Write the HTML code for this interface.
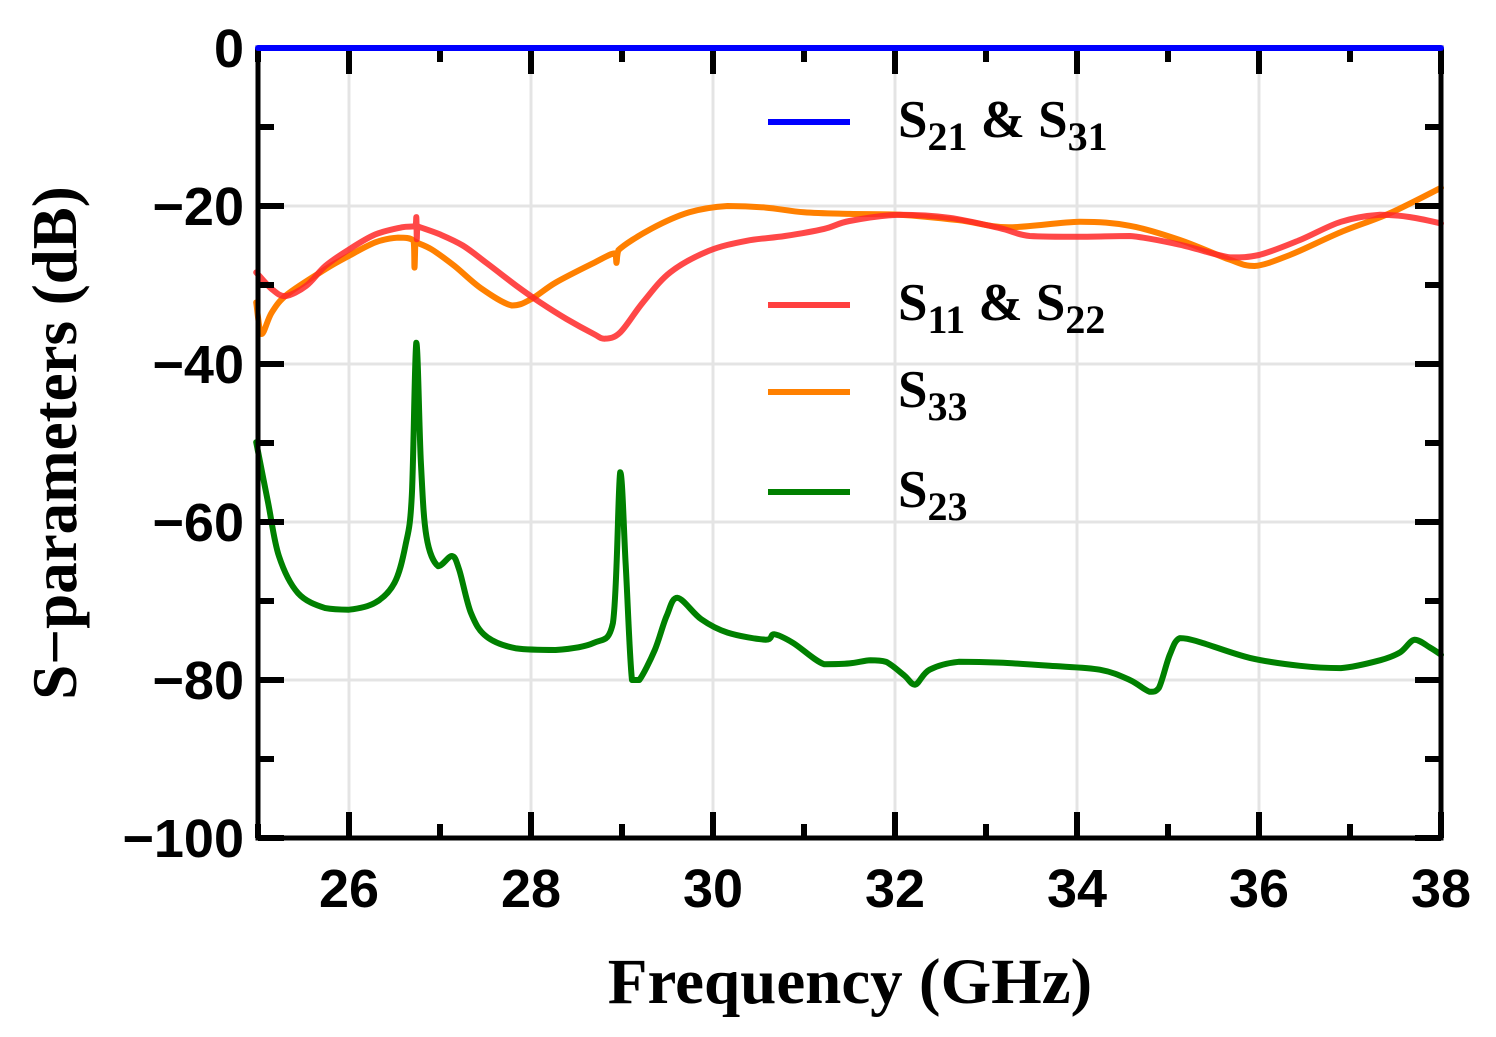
<!DOCTYPE html>
<html><head><meta charset="utf-8"><style>
body{margin:0;background:#fff;}
svg text{font-family:"Liberation Sans",sans-serif;font-weight:bold;}
.ser{font-family:"Liberation Serif",serif !important;}
</style></head><body>
<svg width="1496" height="1032" viewBox="0 0 1496 1032">
<g id="grid"></g>
<g id="series"></g>
<g id="axes"></g>
<g id="topg"></g>
<g id="legend"></g>
<text class="ser" x="850" y="1003" font-size="65" text-anchor="middle">Frequency (GHz)</text>
<text class="ser" transform="translate(76,443) rotate(-90)" font-size="63" text-anchor="middle">S−parameters (dB)</text>
</svg>
<script>
const xTicks=[26,28,30,32,34,36,38];
const yTicks=[0,-20,-40,-60,-80,-100];
const s21Freq=[25,38];
const s21Vals=[0,0];
const s11Freq=[24.98,25.15,25.3,25.53,25.74,26,26.29,26.58,26.73,26.74,26.745,26.75,26.76,27,27.25,27.51,27.84,28.1,28.39,28.69,28.81,28.98,29.23,29.53,29.95,30.37,30.79,31.22,31.5,32.05,32.6,33.15,33.48,34.03,34.58,35.13,35.68,36,36.45,36.9,37.33,37.66,38];
const s11Vals=[-28.4,-30.5,-31.4,-30.1,-27.6,-25.5,-23.6,-22.7,-22.5,-21.4,-24.2,-22.5,-22.6,-23.6,-25,-27.2,-30.1,-32.2,-34.3,-36.2,-36.8,-36,-32.2,-28.4,-25.7,-24.4,-23.8,-22.9,-21.9,-21.1,-21.5,-22.8,-23.8,-23.9,-23.8,-24.9,-26.5,-26.2,-24.3,-22,-21.1,-21.4,-22.2];
const s33Freq=[24.98,25.04,25.15,25.32,25.74,26,26.29,26.54,26.71,26.72,26.73,26.74,26.91,27.16,27.46,27.79,28,28.27,28.69,28.92,28.94,28.96,29.32,29.74,30.16,30.58,31,31.5,32.05,32.7,33.25,34.03,34.58,35.13,35.68,35.95,36.34,36.9,37.44,38];
const s33Vals=[-32.2,-36.2,-33.5,-31.2,-28,-26.3,-24.6,-24,-24.4,-27.8,-24.5,-24.6,-25.5,-27.6,-30.5,-32.6,-31.8,-29.7,-27.2,-26,-27.2,-25.6,-22.9,-20.8,-20,-20.2,-20.8,-21,-21.1,-21.8,-22.7,-22,-22.5,-24.3,-26.8,-27.6,-26.2,-23.3,-20.9,-17.7];
const s23Freq=[24.98,25.11,25.23,25.44,25.74,26,26.29,26.5,26.62,26.69,26.74,26.79,26.85,26.98,27.13,27.21,27.34,27.51,27.84,28.27,28.69,28.9,28.98,29.04,29.11,29.19,29.36,29.49,29.61,29.87,30.16,30.58,30.67,30.88,31.22,31.5,31.73,31.9,32.1,32.22,32.38,32.7,33.15,33.7,34.25,34.58,34.8,34.9,35.02,35.13,35.35,35.9,36.45,36.9,37.33,37.55,37.71,37.88,38];
const s23Vals=[-49.9,-57.5,-64.3,-69,-70.9,-71.1,-70.2,-67.7,-63,-56.7,-37.3,-52.5,-61.8,-65.6,-64.3,-66,-71.5,-74.5,-76,-76.2,-75.3,-72.8,-53.7,-65.2,-80,-80,-76.2,-71.9,-69.6,-72.3,-74,-74.9,-74.2,-75.3,-78,-77.9,-77.5,-77.7,-79.4,-80.6,-78.7,-77.7,-77.8,-78.2,-78.7,-80,-81.5,-81,-76.8,-74.7,-75.2,-77.2,-78.2,-78.5,-77.5,-76.5,-74.9,-75.9,-76.8];

const L=258,R=1441,T=48,B=838;
const xS=v=>L+(v-25)/13*(R-L);
const yS=v=>T+(0-v)/100*(B-T);
const NS='http://www.w3.org/2000/svg';
function mk(tag,attrs,parent){const e=document.createElementNS(NS,tag);for(const k in attrs)e.setAttribute(k,attrs[k]);parent.appendChild(e);return e;}
const grid=document.getElementById('grid'),axes=document.getElementById('axes'),ser=document.getElementById('series'),leg=document.getElementById('legend'),topG=document.getElementById('topg');
xTicks.forEach(t=>{
  const g=mk('line',{x1:xS(t),x2:xS(t),y1:T,y2:B,stroke:'#e4e4e4','stroke-width':3},grid);
  
  
});
yTicks.forEach(t=>{
  const g=mk('line',{x1:L,x2:R,y1:yS(t),y2:yS(t),stroke:'#e4e4e4','stroke-width':3},grid);
  
  
});
function clamp(v,a,b){const lo=Math.min(a,b),hi=Math.max(a,b);return Math.max(lo,Math.min(hi,v));}
function path(fr,vals,color,name,parent){
  const P=fr.map((f,i)=>[xS(f),yS(vals[i])]);
  let d='M'+P[0][0].toFixed(1)+','+P[0][1].toFixed(1);
  for(let i=0;i<P.length-1;i++){
    const p0=P[Math.max(0,i-1)],p1=P[i],p2=P[i+1],p3=P[Math.min(P.length-1,i+2)];
    const c1x=p1[0]+(p2[0]-p0[0])/6,c1y=clamp(p1[1]+(p2[1]-p0[1])/6,p1[1],p2[1]);
    const c2x=p2[0]-(p3[0]-p1[0])/6,c2y=clamp(p2[1]-(p3[1]-p1[1])/6,p1[1],p2[1]);
    d+=' C'+clamp(c1x,p1[0],p2[0]).toFixed(1)+','+c1y.toFixed(1)+' '+clamp(c2x,p1[0],p2[0]).toFixed(1)+','+c2y.toFixed(1)+' '+p2[0].toFixed(1)+','+p2[1].toFixed(1);
  }
  const p=mk('path',{d:d,fill:'none',stroke:color,'stroke-width':6,'stroke-linejoin':'round','stroke-linecap':'round'},parent||ser);
  
  
}
path(s23Freq,s23Vals,'#008000','s23-line');
path(s33Freq,s33Vals,'#ff8000','s33-line');
path(s11Freq,s11Vals,'rgba(255,40,40,0.85)','s11-s22-line');
const fr=mk('rect',{x:L,y:T,width:R-L,height:B-T,fill:'none',stroke:'#000','stroke-width':5},axes);


for(let v=25;v<=38;v+=1){
  const len=(v%2===0)?26:14;
  mk('line',{x1:xS(v),x2:xS(v),y1:B,y2:B-len,stroke:'#000','stroke-width':6},axes);
  mk('line',{x1:xS(v),x2:xS(v),y1:T,y2:T+len,stroke:'#000','stroke-width':6},axes);
}
for(let v=0;v>=-100;v-=10){
  const len=(v%20===0)?26:16;
  mk('line',{x1:L,x2:L+len,y1:yS(v),y2:yS(v),stroke:'#000','stroke-width':6},axes);
  mk('line',{x1:R,x2:R-len,y1:yS(v),y2:yS(v),stroke:'#000','stroke-width':6},axes);
}
path(s21Freq,s21Vals,'#0000ff','s21-s31-line',topG);
xTicks.forEach(t=>{
  const e=mk('text',{x:xS(t),y:907,'font-size':54,'text-anchor':'middle'},axes);
  e.textContent=t;
  
  
});
yTicks.forEach(t=>{
  const e=mk('text',{x:244,y:yS(t)+19,'font-size':54,'text-anchor':'end'},axes);
  e.textContent=t<0?'−'+(-t):t;
  
  
});
const legItems=[['#0000ff',122,'21','31'],['#ff4040',305,'11','22'],['#ff8000',392,'33',null],['#008000',492,'23',null]];
legItems.forEach(it=>{
  const l=mk('line',{x1:768,x2:850,y1:it[1],y2:it[1],stroke:it[0],'stroke-width':6},leg);
  
  
  const t=mk('text',{x:898,y:it[1]+15,'font-size':53,class:'ser'},leg);
  
  
  let h='S<tspan dy="13" font-size="40">'+it[2]+'</tspan>';
  if(it[3])h+='<tspan dy="-13"> &amp; S</tspan><tspan dy="13" font-size="40">'+it[3]+'</tspan>';
  t.innerHTML=h;
});
</script>
</body></html>
